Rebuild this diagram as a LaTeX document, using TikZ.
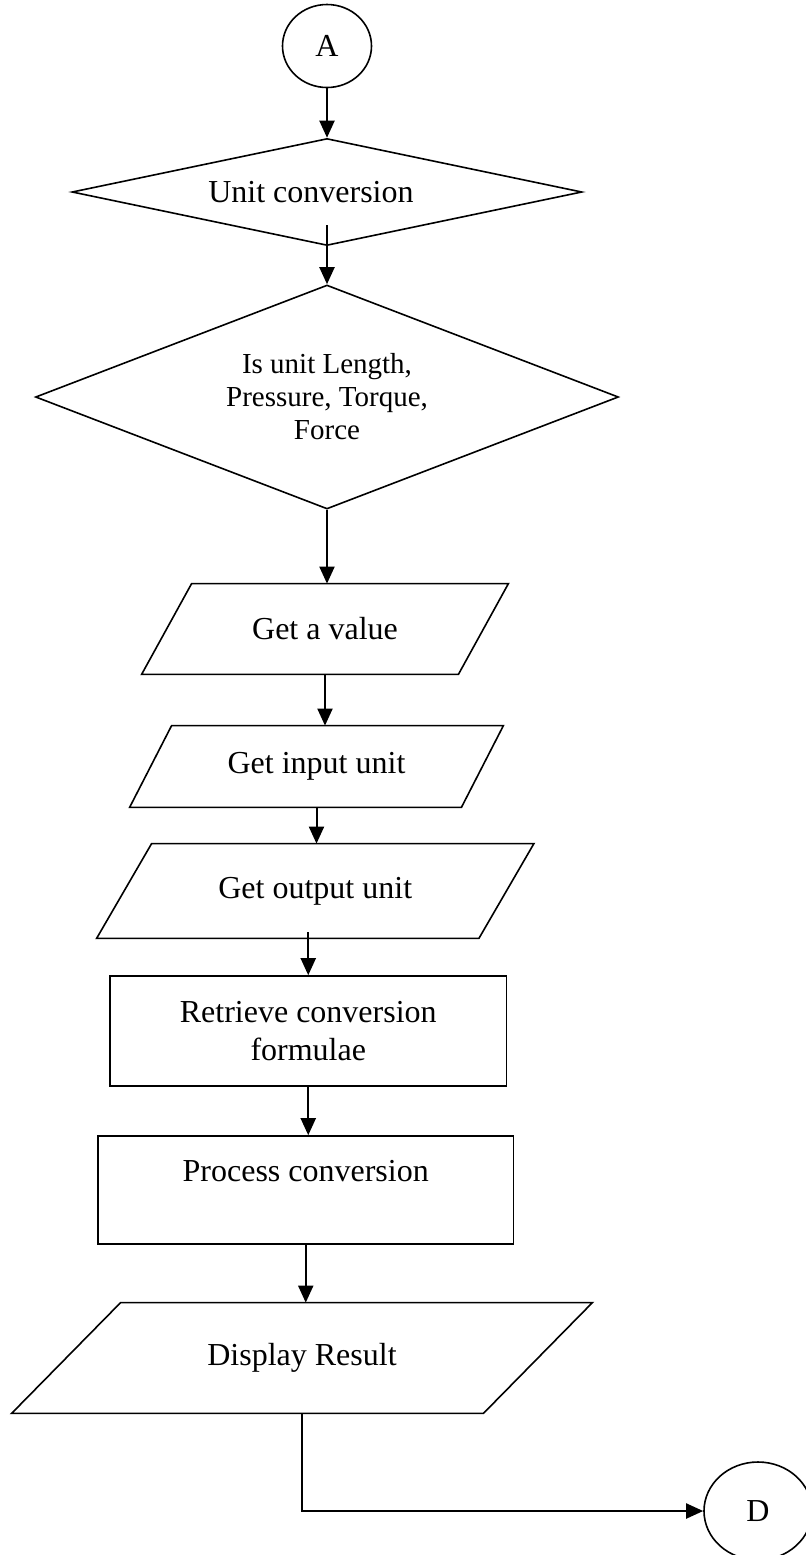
\documentclass[tikz,border=0pt]{standalone}
\usepackage{fontspec}
\setmainfont{Liberation Serif}
\usetikzlibrary{shapes.geometric,arrows.meta,calc}

\tikzset{
  flow/.style={draw, line width=0.8pt},
  conn/.style={ellipse, flow, inner sep=0pt, font=\fontsize{16}{19}\selectfont},
  decision/.style={diamond, flow, inner sep=0pt, align=center},
  process/.style={rectangle, flow, inner sep=0pt, align=center, font=\fontsize{16}{19}\selectfont},
  io/.style={rectangle, inner sep=0pt, align=center, font=\fontsize{16}{19}\selectfont},
  arr/.style={line width=1pt, -{Triangle[length=8.5pt,width=7.5pt]}}
}
\newcommand{\ioframe}[2]{\draw[flow] ([xshift=#2]#1.north west) -- ([xshift=#2]#1.north east) -- ([xshift=-#2]#1.south east) -- ([xshift=-#2]#1.south west) -- cycle;}

\begin{document}
\begin{tikzpicture}[x=0.5pt, y=-0.5pt]
\useasboundingbox (0,0) rectangle (806,1555);

\node[conn, minimum width=44.5pt, minimum height=41.5pt] (A) at (327,46) {A};
\node[decision, aspect=5, minimum width=255pt, minimum height=53.5pt, font=\fontsize{16}{19}\selectfont] (unitconv) at (327,192) {\hspace*{-16pt}Unit conversion};
\node[decision, aspect=2.6, minimum width=291.5pt, minimum height=112pt, font=\fontsize{14.5}{16.5}\selectfont] (isunit) at (327,397) {Is unit Length,\\Pressure, Torque,\\Force};

\node[io, minimum width=158pt, minimum height=45pt] (getval) at (325,629) {Get a value};
\ioframe{getval}{12.5pt}
\node[io, minimum width=165.5pt, minimum height=40.5pt] (getin) at (316.5,766.5) {Get input unit};
\ioframe{getin}{10.5pt}
\node[io, minimum width=190.75pt, minimum height=47pt] (getout) at (315.25,891) {Get output unit};
\ioframe{getout}{13.75pt}

\node[process, minimum width=198.25pt, minimum height=55pt] (retrieve) at (308.25,1031) {Retrieve conversion\\formulae};
\node[process, minimum width=207.75pt, minimum height=54pt] (process) at (305.75,1190) {Process conversion\\\mbox{}};

\node[io, minimum width=235.5pt, minimum height=55pt] (display) at (302,1358) {Display Result};
\ioframe{display}{27.25pt}

\node[conn, minimum width=54pt, minimum height=49pt] (D) at (758,1511) {D};

\draw[arr] (A) -- (unitconv);
\draw[arr] ($(unitconv.south)+(0,-21)$) -- (isunit.north);
\draw[arr] (isunit.south) -- (isunit.south |- getval.north);
\draw[arr] (getval.south) -- (getval.south |- getin.north);
\draw[arr] (getin.south) -- (getin.south |- getout.north);
\draw[arr] ($(retrieve.north |- getout.south)+(0,-6)$) -- (retrieve.north);
\draw[arr] (retrieve.south) -- (retrieve.south |- process.north);
\draw[arr] (process.south) -- (process.south |- display.north);
\draw[arr] (display.south) |- (D.west);
\end{tikzpicture}
\end{document}
